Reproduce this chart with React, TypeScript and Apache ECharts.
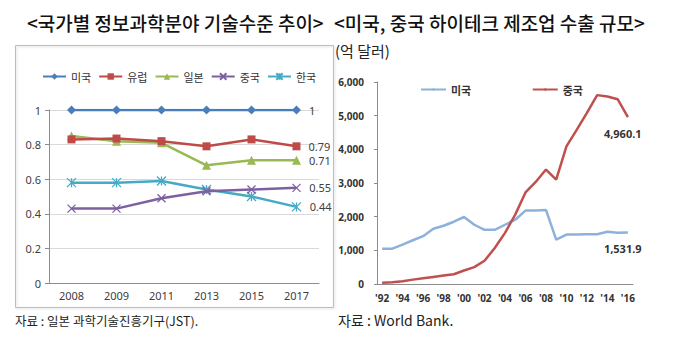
import React, { useEffect, useRef } from "react";
import * as echarts from "echarts";

const leftYears = ["2008", "2009", "2011", "2013", "2015", "2017"];
const usLevel = [1, 1, 1, 1, 1, 1];
const euLevel = [0.83, 0.835, 0.82, 0.79, 0.83, 0.79];
const jpLevel = [0.85, 0.82, 0.81, 0.68, 0.71, 0.71];
const cnLevel = [0.43, 0.43, 0.49, 0.53, 0.54, 0.55];
const krLevel = [0.58, 0.58, 0.59, 0.54, 0.5, 0.44];
const leftNames = ["미국", "유럽", "일본", "중국", "한국"];

const rightYears = [
  "'92", "'93", "'94", "'95", "'96", "'97", "'98", "'99", "'00", "'01", "'02", "'03", "'04",
  "'05", "'06", "'07", "'08", "'09", "'10", "'11", "'12", "'13", "'14", "'15", "'16",
];
const usExport = [
  1050, 1050, 1170, 1300, 1420, 1640, 1730, 1850, 1990, 1760, 1610, 1610, 1760,
  1910, 2180, 2180, 2200, 1320, 1470, 1470, 1480, 1480, 1550, 1520, 1531.9,
];
const cnExport = [
  40, 50, 80, 130, 170, 210, 250, 290, 400, 500, 690, 1070, 1520,
  2060, 2720, 3030, 3400, 3100, 4090, 4580, 5080, 5610, 5570, 5490, 4960.1,
];

const KR = '"Noto Sans CJK KR", "Noto Sans", sans-serif';
const LAT = '"Noto Sans", "Liberation Sans", sans-serif';

export default function App() {
  const ref = useRef<HTMLDivElement>(null);
  useEffect(() => {
    document.body.style.margin = "0";
    const chart = echarts.init(ref.current!, null, { renderer: "svg" });
    const endLabel = (n: number, fmt: (v: number) => string) => ({
      show: true,
      position: "right",
      distance: 8,
      color: "#404040",
      fontSize: 11,
      fontFamily: LAT,
      formatter: (p: any) => (p.dataIndex === n - 1 ? fmt(p.value) : ""),
    });
    const leftColors = ["#4A7EBB", "#BE4B48", "#98B954", "#7D60A0", "#46AAC5"];
    const leftData = [usLevel, euLevel, jpLevel, cnLevel, krLevel];
    const symbols = [
      "diamond",
      "rect",
      "triangle",
      "path://M0,0L10,10M10,0L0,10",
      "path://M0,0L10,10M10,0L0,10M5,0L5,10",
    ];
    const symbolSizes = [9, 8, 9, 8, 9];
    const leftSeries = leftNames.map((name, i) => {
      const stroked = i >= 3;
      return {
        name,
        type: "line",
        xAxisIndex: 0,
        yAxisIndex: 0,
        data: leftData[i],
        symbol: symbols[i],
        symbolSize: symbolSizes[i],
        lineStyle: { color: leftColors[i], width: 2.5 },
        itemStyle: stroked
          ? { color: "rgba(0,0,0,0)", borderColor: leftColors[i], borderWidth: 1.3 }
          : { color: leftColors[i] },
        label: endLabel(leftData[i].length, (v) => String(v)),
        z: 5 - i,
      };
    });
    const fmtNum = (v: number) => v.toLocaleString("en-US", { minimumFractionDigits: 1 });
    const rightEndLabel = {
      show: true,
      formatter: (p: any) => fmtNum(p.value as number),
      offset: [-32, 16],
      color: "#333",
      fontSize: 11,
      fontWeight: "bold",
      fontFamily: LAT,
    };

    chart.setOption({
      animation: false,
      graphic: [
        {
          type: "rect",
          shape: { x: 15.5, y: 45.5, width: 318, height: 262 },
          style: { fill: "none", stroke: "#bdbdbd", lineWidth: 1, shadowColor: "rgba(0,0,0,0.15)", shadowBlur: 2, shadowOffsetX: 1, shadowOffsetY: 1 },
          z: -1,
        },
        {
          type: "text",
          left: 27,
          top: 13,
          style: { text: "<국가별 정보과학분야 기술수준 추이>", font: `500 19px ${KR}`, fill: "#111" },
        },
        {
          type: "text",
          left: 334,
          top: 13,
          style: { text: "<미국, 중국 하이테크 제조업 수출 규모>", font: `500 19px ${KR}`, fill: "#111" },
        },
        {
          type: "text",
          left: 335,
          top: 43,
          style: { text: "(억 달러)", font: `15px ${KR}`, fill: "#222" },
        },
        {
          type: "text",
          left: 15,
          top: 314,
          style: { text: "자료 : 일본 과학기술진흥기구(JST).", font: `12.5px ${KR}`, fill: "#222" },
        },
        {
          type: "text",
          left: 338,
          top: 313,
          style: { text: "자료 : World Bank.", font: `14px ${KR}`, fill: "#222" },
        },
      ],
      legend: [
        {
          data: leftNames,
          left: 37,
          top: 66,
          itemWidth: 23,
          itemHeight: 8,
          itemGap: 7,
          textStyle: { fontFamily: KR, fontSize: 11, color: "#333" },
        },
        {
          data: ["미국", "중국"].map((n) => n + " "),
          left: 415,
          top: 79,
          itemWidth: 25,
          itemHeight: 3,
          itemGap: 58,
          textStyle: { fontFamily: KR, fontSize: 11, fontWeight: "bold", color: "#333" },
        },
      ],
      grid: [
        { left: 49, right: 361, top: 110, bottom: 71 },
        { left: 377, right: 47, top: 82, bottom: 70 },
      ],
      xAxis: [
        {
          gridIndex: 0,
          type: "category",
          data: leftYears,
          boundaryGap: true,
          axisLine: { lineStyle: { color: "#8c8c8c" } },
          axisTick: { show: false },
          axisLabel: { color: "#404040", fontSize: 11, fontFamily: LAT, margin: 7 },
        },
        {
          gridIndex: 1,
          type: "category",
          data: rightYears,
          boundaryGap: true,
          axisLine: { lineStyle: { color: "#8c8c8c" } },
          axisTick: { show: false },
          axisLabel: { color: "#333", fontSize: 10, fontWeight: "bold", fontFamily: LAT, margin: 9, interval: 1 },
        },
      ],
      yAxis: [
        {
          gridIndex: 0,
          type: "value",
          min: 0,
          max: 1,
          interval: 0.2,
          axisLine: { show: true, lineStyle: { color: "#8c8c8c" } },
          axisTick: { show: true, length: 4, lineStyle: { color: "#8c8c8c" } },
          splitLine: { lineStyle: { color: "#d9d9d9" } },
          axisLabel: { color: "#404040", fontSize: 11, fontFamily: LAT, margin: 8 },
        },
        {
          gridIndex: 1,
          type: "value",
          min: 0,
          max: 6000,
          interval: 1000,
          axisLine: { show: true, lineStyle: { color: "#8c8c8c" } },
          axisTick: { show: true, length: 3, lineStyle: { color: "#8c8c8c" } },
          splitLine: { show: false },
          axisLabel: {
            color: "#333",
            fontSize: 10,
            fontWeight: "bold",
            fontFamily: LAT,
            margin: 13,
            formatter: (v: number) => v.toLocaleString("en-US"),
          },
        },
      ],
      series: [
        ...leftSeries,
        {
          name: "미국 ",
          type: "line",
          xAxisIndex: 1,
          yAxisIndex: 1,
          data: usExport,
          symbol: "none",
          lineStyle: { color: "#8DB1DA", width: 2.5 },
          itemStyle: { color: "#8DB1DA" },
          endLabel: rightEndLabel,
        },
        {
          name: "중국 ",
          type: "line",
          xAxisIndex: 1,
          yAxisIndex: 1,
          data: cnExport,
          symbol: "none",
          lineStyle: { color: "#C0504D", width: 2.5 },
          itemStyle: { color: "#C0504D" },
          endLabel: rightEndLabel,
        },
      ],
    });
    return () => chart.dispose();
  }, []);
  return <div ref={ref} style={{ width: 680, height: 354 }} />;
}
